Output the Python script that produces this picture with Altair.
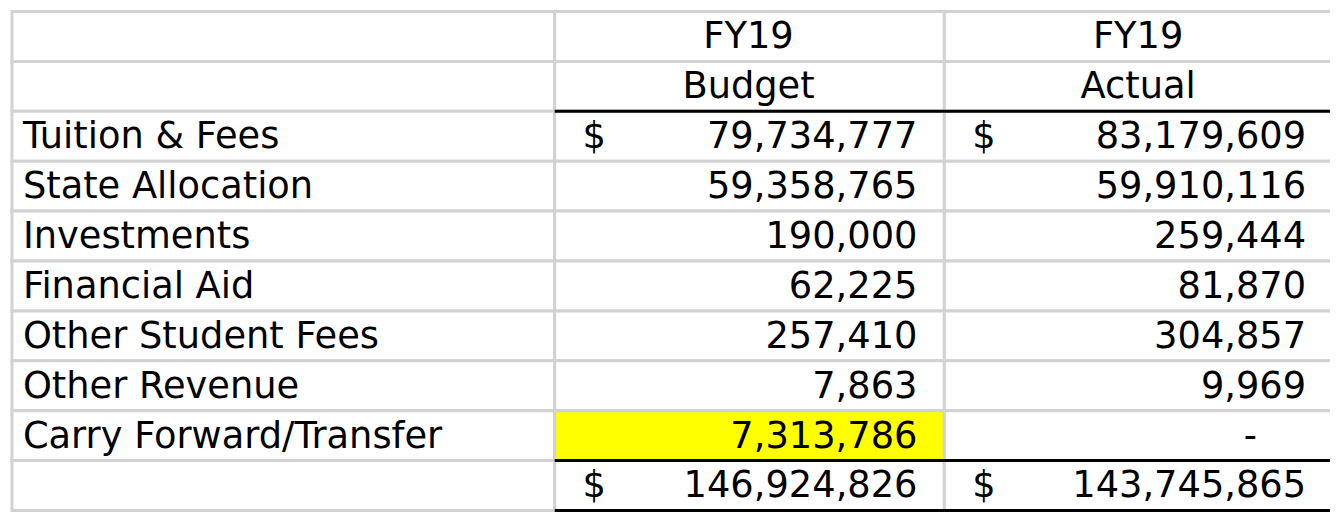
import altair as alt
import pandas as pd

# ---- data ----
categories = ["Tuition & Fees", "State Allocation", "Investments", "Financial Aid",
              "Other Student Fees", "Other Revenue", "Carry Forward/Transfer", ""]
budget = ["79,734,777", "59,358,765", "190,000", "62,225", "257,410", "7,863",
          "7,313,786", "146,924,826"]
actual = ["83,179,609", "59,910,116", "259,444", "81,870", "304,857", "9,969",
          "-", "143,745,865"]
header_top = ["FY19", "FY19"]
header_bottom = ["Budget", "Actual"]
dollar_rows = [0, 7]          # data-row indices that carry a "$"
highlight = (6, 1)            # (data row, column) filled yellow

# ---- layout (table units) ----
col_edges = [4, 550, 942, 1336]
n_rows = 2 + len(categories)
FONT = "DejaVu Sans"
FS = 37

xs = alt.Scale(domain=[0, 1330], range=[0, 1330])
ys = alt.Scale(domain=[0, n_rows], range=[2, 504])

# cells
cells = []
for r in range(n_rows):
    for c in range(3):
        fill = "#ffff00" if (r - 2, c) == highlight else "#ffffff"
        cells.append(dict(x=col_edges[c], x2=col_edges[c + 1], y=r, y2=r + 1, fill=fill))
cells_df = pd.DataFrame(cells)

rects = alt.Chart(cells_df).mark_rect(stroke="#d2d2d2", strokeWidth=3).encode(
    x=alt.X("x:Q", scale=xs, axis=None), x2="x2:Q",
    y=alt.Y("y:Q", scale=ys, axis=None), y2="y2:Q",
    fill=alt.Fill("fill:N", scale=None),
)

# black rules
rules_df = pd.DataFrame(dict(y=[2, n_rows - 1, n_rows], x=[col_edges[1]] * 3,
                             x2=[col_edges[3]] * 3))
rules = alt.Chart(rules_df).mark_rule(color="#000000", strokeWidth=3).encode(
    x=alt.X("x:Q", scale=xs), x2="x2:Q", y=alt.Y("y:Q", scale=ys))

# labels (left aligned)
lab_df = pd.DataFrame(dict(t=categories, y=[i + 2.5 for i in range(len(categories))],
                           x=[15] * len(categories)))
labels = alt.Chart(lab_df).mark_text(align="left", baseline="middle", font=FONT,
                                      fontSize=FS, color="#000000", dy=1).encode(
    x=alt.X("x:Q", scale=xs), y=alt.Y("y:Q", scale=ys), text="t:N")

# numbers (right aligned)
num_rows = []
for i, (b, a) in enumerate(zip(budget, actual)):
    num_rows.append(dict(t=b, x=915, y=i + 2.5))
    if a != "-":
        num_rows.append(dict(t=a, x=1306, y=i + 2.5))
num_df = pd.DataFrame(num_rows)
numbers = alt.Chart(num_df).mark_text(align="right", baseline="middle", font=FONT,
                                      fontSize=FS, color="#000000", dy=1).encode(
    x=alt.X("x:Q", scale=xs), y=alt.Y("y:Q", scale=ys), text="t:N")

# dash and headers (centered)
cen_rows = [dict(t=header_top[0], x=745, y=0.5), dict(t=header_top[1], x=1137, y=0.5),
            dict(t=header_bottom[0], x=745, y=1.5), dict(t=header_bottom[1], x=1137, y=1.5)]
for i, a in enumerate(actual):
    if a == "-":
        cen_rows.append(dict(t=a, x=1250, y=i + 2.5))
cen_df = pd.DataFrame(cen_rows)
centers = alt.Chart(cen_df).mark_text(align="center", baseline="middle", font=FONT,
                                      fontSize=FS, color="#000000", dy=1).encode(
    x=alt.X("x:Q", scale=xs), y=alt.Y("y:Q", scale=ys), text="t:N")

# dollar signs
dol_rows = []
for i in dollar_rows:
    dol_rows.append(dict(t="$", x=578, y=i + 2.5))
    dol_rows.append(dict(t="$", x=970, y=i + 2.5))
dol_df = pd.DataFrame(dol_rows)
dollars = alt.Chart(dol_df).mark_text(align="left", baseline="middle", font=FONT,
                                      fontSize=FS, color="#000000", dy=1).encode(
    x=alt.X("x:Q", scale=xs), y=alt.Y("y:Q", scale=ys), text="t:N")

chart = alt.layer(rects, rules, labels, numbers, centers, dollars).properties(
    width=1330, height=505, padding=0, autosize=alt.AutoSizeParams(type="none"),
    background="#ffffff",
).configure_view(stroke=None)

chart.save("out.html", embed_options={"renderer": "svg", "actions": False})
